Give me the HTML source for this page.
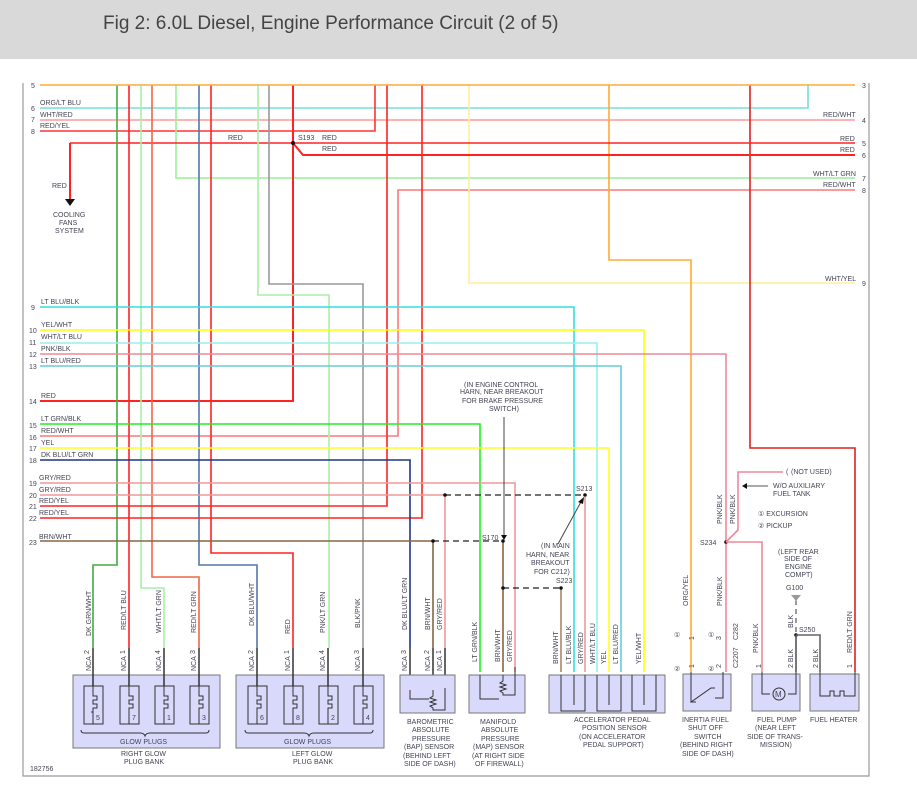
<!DOCTYPE html>
<html><head><meta charset="utf-8"><style>
html,body{margin:0;padding:0;background:#fff;}
svg{display:block;}
text{font-family:"Liberation Sans",sans-serif;fill:#445;}
.s{font-size:7px;}
.w{fill:none;stroke-width:1.6;}
.r{stroke:#f22;stroke-width:2;}
.box{fill:#d9d9fb;stroke:#777;stroke-width:1;}
.k{fill:none;stroke:#333;stroke-width:1;}
.d{fill:none;stroke:#222;stroke-width:1.2;stroke-dasharray:6,4;}
</style></head><body>
<svg width="917" height="798" viewBox="0 0 917 798" xmlns="http://www.w3.org/2000/svg">
<rect x="0" y="0" width="917" height="59" fill="#d9d9d9"/>
<text x="103" y="29" style="font-size:19px;fill:#444">Fig 2: 6.0L Diesel, Engine Performance Circuit (2 of 5)</text>
<!-- frame -->
<polyline points="23,83 23,776 869,776 869,83" fill="none" stroke="#999" stroke-width="1.2"/>

<!-- horizontal wires -->
<g class="s">
<text x="31" y="88">5</text><text x="31" y="111">6</text><text x="31" y="122">7</text><text x="31" y="134">8</text>
<text x="31" y="310">9</text><text x="29" y="333">10</text><text x="29" y="345">11</text><text x="29" y="357">12</text><text x="29" y="369">13</text>
<text x="29" y="404">14</text><text x="29" y="428">15</text><text x="29" y="440">16</text><text x="29" y="451">17</text><text x="29" y="463">18</text>
<text x="29" y="486">19</text><text x="29" y="498">20</text><text x="29" y="509">21</text><text x="29" y="521">22</text><text x="29" y="545">23</text>
<text x="862" y="88">3</text><text x="862" y="123">4</text><text x="862" y="146">5</text><text x="862" y="158">6</text><text x="862" y="181">7</text><text x="862" y="193">8</text><text x="862" y="286">9</text>
<text x="40" y="105">ORG/LT BLU</text><text x="40" y="117">WHT/RED</text><text x="40" y="128">RED/YEL</text>
<text x="228" y="140">RED</text><text x="298" y="140">S193</text><text x="322" y="140">RED</text><text x="322" y="151">RED</text>
<text x="52" y="188">RED</text>
<text x="53" y="217">COOLING</text><text x="59" y="225">FANS</text><text x="55" y="233">SYSTEM</text>
<text x="823" y="117">RED/WHT</text><text x="840" y="141">RED</text><text x="840" y="152">RED</text><text x="813" y="176">WHT/LT GRN</text><text x="823" y="187">RED/WHT</text><text x="825" y="281">WHT/YEL</text>
<text x="41" y="304">LT BLU/BLK</text><text x="41" y="327">YEL/WHT</text><text x="41" y="339">WHT/LT BLU</text><text x="41" y="351">PNK/BLK</text><text x="41" y="363">LT BLU/RED</text>
<text x="41" y="398">RED</text><text x="41" y="421">LT GRN/BLK</text><text x="41" y="433">RED/WHT</text><text x="41" y="445">YEL</text><text x="41" y="457">DK BLU/LT GRN</text>
<text x="39" y="480">GRY/RED</text><text x="39" y="492">GRY/RED</text><text x="39" y="503">RED/YEL</text><text x="39" y="515">RED/YEL</text><text x="39" y="539">BRN/WHT</text>
</g>

<!-- top wires -->
<polyline class="w" stroke="#7dd" points="40,108 808,108 808,85"/>
<polyline class="w" stroke="#f99" points="40,120 855,120"/>
<polyline class="w" stroke="#f33" points="40,131 375,131 375,85"/>
<polyline class="w" stroke="#9e9" points="176,85 176,178 855,178"/>
<polyline class="w" stroke="#f77" points="855,190 398,190 398,436 40,436"/>
<polyline class="w" stroke="#fe9" points="469,85 469,283 855,283"/>
<polyline class="w" stroke="#fa3" points="609,85 609,260 691,260 691,672"/>
<polyline class="w" stroke="#d22" points="750,85 750,448 855,448 855,672"/>
<polyline class="w" stroke="#f22" points="70,143 855,143"/>
<polyline class="w r" stroke="#f22" points="70,143 70,200"/>
<polygon points="65,199 75,199 70,206" fill="#111"/>
<polyline class="w r" stroke="#f33" points="293,143 303,155 855,155"/>
<polyline class="w r" points="293,85 293,401 40,401"/>
<circle cx="293" cy="143" r="2" fill="#111"/>
<!-- left verticals -->
<polyline class="w" stroke="#4a4" points="117,85 117,565 93,565 93,648"/>
<polyline class="w" stroke="#f22" points="129,85 129,648"/>
<polyline class="w" stroke="#aea" points="141,85 141,588 164,588 164,648"/>
<polyline class="w" stroke="#e64" points="152,85 152,577 199,577 199,648"/>
<polyline class="w" stroke="#57a" points="199,85 199,565 257,565 257,648"/>
<polyline class="w" stroke="#f22" points="211,85 211,553 293,553 293,648"/>
<polyline class="w" stroke="#aea" points="258,85 258,295 329,295 329,648"/>
<polyline class="w" stroke="#999" points="269,85 269,284 363,284 363,648"/>
<polyline class="w" stroke="#f22" points="387,85 387,506 40,506"/>
<polyline class="w" stroke="#f22" points="422,85 422,518 40,518"/>
<polyline class="w" stroke="#fa3" points="40,85 855,85"/>
<!-- lower rows -->
<polyline class="w" stroke="#3dd" points="40,307 574,307 574,672"/>
<polyline class="w" stroke="#ff0" points="40,330 644,330 644,672"/>
<polyline class="w" stroke="#9ee" points="40,343 597,343 597,672"/>
<polyline class="w" stroke="#e89" points="40,354 726,354 726,672"/>
<polyline class="w" stroke="#6cd" points="40,366 621,366 621,672"/>
<polyline class="w" stroke="#2e2" points="40,424 480,424 480,672"/>
<polyline class="w" stroke="#ff2" points="40,448 609,448 609,672"/>
<polyline class="w" stroke="#238" points="40,460 410,460 410,648"/>
<polyline class="w" stroke="#e99" points="40,483 515,483 515,672"/>
<polyline class="w" stroke="#e99" points="40,495 445,495 445,648"/>
<polyline class="w" stroke="#e99" points="585,497 585,672"/>
<polyline class="w" stroke="#864" points="40,541 433,541 433,648"/>
<polyline class="w" stroke="#864" points="503,541 503,672"/>
<polyline class="w" stroke="#a86" points="561,588 561,672"/>
<line class="d" x1="445" y1="495" x2="585" y2="495"/>
<line class="d" x1="433" y1="541" x2="503" y2="541"/>
<line class="d" x1="503" y1="588" x2="561" y2="588"/>
<g fill="#111"><circle cx="445" cy="495" r="1.8"/><circle cx="585" cy="495" r="1.8"/><circle cx="433" cy="541" r="1.8"/><circle cx="503" cy="541" r="1.8"/><circle cx="503" cy="588" r="1.8"/><circle cx="561" cy="588" r="1.8"/><circle cx="726" cy="542" r="1.8"/><circle cx="796" cy="635" r="1.8"/></g>
<line x1="504" y1="417" x2="504" y2="536" stroke="#444"/>
<polygon points="501,535 507,535 504,540" fill="#111"/>
<line x1="558" y1="544" x2="582" y2="500" stroke="#444"/>
<polygon points="584,497 578,502 583,504" fill="#111"/>
<g class="s">
<text x="464" y="387">(IN ENGINE CONTROL</text><text x="460" y="394">HARN, NEAR BREAKOUT</text><text x="462" y="403">FOR BRAKE PRESSURE</text><text x="489" y="411">SWITCH)</text>
<text x="576" y="491">S213</text><text x="482" y="540">S170</text>
<text x="541" y="548">(IN MAIN</text><text x="526" y="557">HARN, NEAR</text><text x="531" y="565">BREAKOUT</text><text x="534" y="574">FOR C212)</text><text x="556" y="583">S223</text>
</g>
<!-- right side PNK/BLK -->
<polyline class="w" stroke="#e89" points="726,542 738,530 738,472 783,472"/>
<polyline class="w" stroke="#e89" points="726,542 762,542 762,672"/>
<line x1="745" y1="486" x2="768" y2="486" stroke="#555"/>
<polygon points="742,486 747,483 747,489" fill="#111"/>
<polyline class="w" stroke="#666" points="796,635 820,635 820,672"/>
<polyline class="w" stroke="#555" points="796,635 796,672"/>
<line x1="796" y1="600" x2="796" y2="633" stroke="#333" stroke-dasharray="5,4"/>
<polygon points="791,595 801,595 796,601" fill="#999"/>
<g class="s">
<text x="786" y="474">(</text><text x="791" y="474">(NOT USED)</text>
<text x="773" y="488">W/O AUXILIARY</text><text x="773" y="496">FUEL TANK</text>
<text x="758" y="516">① EXCURSION</text><text x="758" y="528">② PICKUP</text>
<text x="700" y="545">S234</text>
<text x="778" y="554">(LEFT REAR</text><text x="784" y="561">SIDE OF</text><text x="785" y="569">ENGINE</text><text x="785" y="577">COMPT)</text>
<text x="786" y="590">G100</text><text x="799" y="632">S250</text>
<text x="30" y="771">182756</text>
</g>

<!-- vertical labels -->
<g class="s">
<text transform="translate(91,636) rotate(-90)">DK GRN/WHT</text>
<text transform="translate(126,630) rotate(-90)">RED/LT BLU</text>
<text transform="translate(161,633) rotate(-90)">WHT/LT GRN</text>
<text transform="translate(196,633) rotate(-90)">RED/LT GRN</text>
<text transform="translate(254,626) rotate(-90)">DK BLU/WHT</text>
<text transform="translate(290,634) rotate(-90)">RED</text>
<text transform="translate(325,633) rotate(-90)">PNK/LT GRN</text>
<text transform="translate(360,628) rotate(-90)">BLK/PNK</text>
<text transform="translate(407,630) rotate(-90)">DK BLU/LT GRN</text>
<text transform="translate(430,630) rotate(-90)">BRN/WHT</text>
<text transform="translate(442,630) rotate(-90)">GRY/RED</text>
<text transform="translate(477,662) rotate(-90)">LT GRN/BLK</text>
<text transform="translate(500,662) rotate(-90)">BRN/WHT</text>
<text transform="translate(512,662) rotate(-90)">GRY/RED</text>
<text transform="translate(558,664) rotate(-90)">BRN/WHT</text>
<text transform="translate(571,664) rotate(-90)">LT BLU/BLK</text>
<text transform="translate(583,664) rotate(-90)">GRY/RED</text>
<text transform="translate(595,664) rotate(-90)">WHT/LT BLU</text>
<text transform="translate(606,664) rotate(-90)">YEL</text>
<text transform="translate(618,664) rotate(-90)">LT BLU/RED</text>
<text transform="translate(641,664) rotate(-90)">YEL/WHT</text>
<text transform="translate(688,606) rotate(-90)">ORG/YEL</text>
<text transform="translate(722,606) rotate(-90)">PNK/BLK</text>
<text transform="translate(722,524) rotate(-90)">PNK/BLK</text>
<text transform="translate(735,524) rotate(-90)">PNK/BLK</text>
<text transform="translate(738,640) rotate(-90)">C282</text>
<text transform="translate(738,668) rotate(-90)">C2207</text>
<text transform="translate(758,653) rotate(-90)">PNK/BLK</text>
<text transform="translate(793,628) rotate(-90)">BLK</text>
<text transform="translate(793,668) rotate(-90)">2 BLK</text>
<text transform="translate(818,668) rotate(-90)">2 BLK</text>
<text transform="translate(852,653) rotate(-90)">RED/LT GRN</text>
<text transform="translate(761,668) rotate(-90)">1</text>
<text transform="translate(852,668) rotate(-90)">1</text>
<text transform="translate(694,640) rotate(-90)">1</text>
<text transform="translate(694,668) rotate(-90)">1</text>
<text transform="translate(721,640) rotate(-90)">3</text>
<text transform="translate(721,668) rotate(-90)">2</text>
<text x="674" y="637">①</text><text x="674" y="671">②</text><text x="708" y="637">①</text><text x="708" y="671">②</text>
</g>

<!-- glow plug banks -->
<rect class="box" x="73" y="675" width="147" height="73"/>
<rect class="box" x="236" y="675" width="148" height="73"/>
<g id="gp">
</g>
<g class="s" font-size="7">
<!-- pins/NCA -->
<g stroke="#333" stroke-width="1.5">
<line x1="93" y1="648" x2="93" y2="686"/><line x1="129" y1="648" x2="129" y2="686"/><line x1="164" y1="648" x2="164" y2="686"/><line x1="199" y1="648" x2="199" y2="686"/>
<line x1="257" y1="648" x2="257" y2="686"/><line x1="293" y1="648" x2="293" y2="686"/><line x1="328" y1="648" x2="328" y2="686"/><line x1="363" y1="648" x2="363" y2="686"/>
<line x1="410" y1="648" x2="410" y2="690"/><line x1="433" y1="648" x2="433" y2="690"/><line x1="445" y1="648" x2="445" y2="690"/>
</g>
<text transform="translate(91,671) rotate(-90)">NCA</text><text transform="translate(126,671) rotate(-90)">NCA</text><text transform="translate(161,671) rotate(-90)">NCA</text><text transform="translate(196,671) rotate(-90)">NCA</text>
<text transform="translate(254,671) rotate(-90)">NCA</text><text transform="translate(290,671) rotate(-90)">NCA</text><text transform="translate(325,671) rotate(-90)">NCA</text><text transform="translate(360,671) rotate(-90)">NCA</text>
<text transform="translate(407,671) rotate(-90)">NCA</text><text transform="translate(430,671) rotate(-90)">NCA</text><text transform="translate(442,671) rotate(-90)">NCA</text>
<text transform="translate(89,654) rotate(-90)">2</text><text transform="translate(125,654) rotate(-90)">1</text><text transform="translate(160,654) rotate(-90)">4</text><text transform="translate(195,654) rotate(-90)">3</text>
<text transform="translate(253,654) rotate(-90)">2</text><text transform="translate(289,654) rotate(-90)">1</text><text transform="translate(324,654) rotate(-90)">4</text><text transform="translate(359,654) rotate(-90)">3</text>
<text transform="translate(406,654) rotate(-90)">3</text><text transform="translate(429,654) rotate(-90)">2</text><text transform="translate(441,654) rotate(-90)">1</text>
</g>
<!-- plug elements -->
<g fill="#d9d9fb" stroke="#333" stroke-width="1">
<rect x="84" y="686" width="19" height="38"/><rect x="120" y="686" width="19" height="38"/><rect x="155" y="686" width="19" height="38"/><rect x="190" y="686" width="19" height="38"/>
<rect x="248" y="686" width="19" height="38"/><rect x="284" y="686" width="19" height="38"/><rect x="319" y="686" width="19" height="38"/><rect x="354" y="686" width="19" height="38"/>
</g>
<g fill="none" stroke="#333" stroke-width="1">
<path d="M93 686v10h4v4h-4v4h4v4h-4v4h-2M93 708v16"/><path d="M129 686v10h4v4h-4v4h4v4h-4v16"/><path d="M164 686v10h4v4h-4v4h4v4h-4v16"/><path d="M199 686v10h4v4h-4v4h4v4h-4v16"/>
<path d="M257 686v10h4v4h-4v4h4v4h-4v16"/><path d="M293 686v10h4v4h-4v4h4v4h-4v16"/><path d="M328 686v10h4v4h-4v4h4v4h-4v16"/><path d="M363 686v10h4v4h-4v4h4v4h-4v16"/>
<path d="M81 730q0 3 3 3h56q4 0 5 3q1-3 5-3h56q3 0 3-3"/>
<path d="M245 730q0 3 3 3h56q4 0 5 3q1-3 5-3h56q3 0 3-3"/>
</g>
<g class="s">
<text x="96" y="720">5</text><text x="132" y="720">7</text><text x="167" y="720">1</text><text x="202" y="720">3</text>
<text x="260" y="720">6</text><text x="296" y="720">8</text><text x="331" y="720">2</text><text x="366" y="720">4</text>
<text x="120" y="744">GLOW PLUGS</text><text x="284" y="744">GLOW PLUGS</text>
<text x="121" y="756">RIGHT GLOW</text><text x="124" y="764">PLUG BANK</text>
<text x="292" y="756">LEFT GLOW</text><text x="293" y="764">PLUG BANK</text>
</g>
<!-- sensor boxes -->
<rect class="box" x="400" y="675" width="55" height="38"/>
<rect class="box" x="469" y="675" width="56" height="38"/>
<rect class="box" x="549" y="675" width="116" height="38"/>
<rect class="box" x="683" y="674" width="48" height="37"/>
<rect class="box" x="752" y="674" width="48" height="37"/>
<rect class="box" x="810" y="674" width="49" height="37"/>
<g fill="none" stroke="#333" stroke-width="1">
<path d="M410 690v9h19M433 690v6l-3 2 6 2-6 2 6 2-6 2 3 2v2h12v-22"/>
<path d="M480 675v24h19M503 675v6l-3 2 6 2-6 2 6 2-6 2 3 2v2h12v-28"/>
<path d="M561 675v36h24v-36M574 675v30M597 675v36h24v-36M609 675v30M632 675v36h24v-36M644 675v30"/>
<path d="M691 672v30l20 -14l4 0M723 672v26h-8M691 702h5"/>
<path d="M762 672v22h8M796 672v22h-8"/><circle cx="779" cy="694" r="6"/>
<path d="M820 672v24h10v-5h4v5h6v-5h4v5h11v-24"/>
</g>
<g class="s">
<text x="407" y="724">BAROMETRIC</text><text x="412" y="732">ABSOLUTE</text><text x="412" y="741">PRESSURE</text><text x="404" y="749">(BAP) SENSOR</text><text x="403" y="758">(BEHIND LEFT</text><text x="404" y="766">SIDE OF DASH)</text>
<text x="480" y="724">MANIFOLD</text><text x="481" y="732">ABSOLUTE</text><text x="481" y="741">PRESSURE</text><text x="473" y="749">(MAP) SENSOR</text><text x="472" y="758">(AT RIGHT SIDE</text><text x="475" y="766">OF FIREWALL)</text>
<text x="574" y="722">ACCELERATOR PEDAL</text><text x="582" y="730">POSITION SENSOR</text><text x="579" y="739">(ON ACCELERATOR</text><text x="583" y="747">PEDAL SUPPORT)</text>
<text x="682" y="722">INERTIA FUEL</text><text x="688" y="730">SHUT OFF</text><text x="694" y="739">SWITCH</text><text x="680" y="747">(BEHIND RIGHT</text><text x="682" y="756">SIDE OF DASH)</text>
<text x="757" y="722">FUEL PUMP</text><text x="755" y="730">(NEAR LEFT</text><text x="747" y="739">SIDE OF TRANS-</text><text x="760" y="747">MISSION)</text>
<text x="810" y="722">FUEL HEATER</text>
<text x="775" y="697" font-size="8">M</text>
</g>
</svg>
</body></html>
